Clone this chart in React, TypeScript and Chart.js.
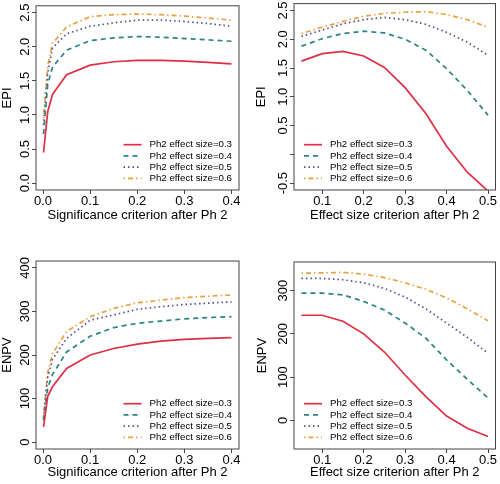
import React, { useEffect, useRef } from 'react';
import { Chart, registerables } from 'chart.js';

Chart.register(...registerables);

const FONT = '"Liberation Sans", Arial, Helvetica, sans-serif';

// ---------- data ----------
const seriesLabels = ['Ph2 effect size=0.3', 'Ph2 effect size=0.4', 'Ph2 effect size=0.5', 'Ph2 effect size=0.6'];

const sigCriterion = [0.001, 0.01, 0.02, 0.05, 0.1, 0.15, 0.2, 0.25, 0.3, 0.35, 0.4];
const esCriterion = [0.05, 0.1, 0.15, 0.2, 0.25, 0.3, 0.35, 0.4, 0.45, 0.5];

const epiSig03 = [0.45, 1.05, 1.3, 1.59, 1.73, 1.78, 1.8, 1.8, 1.79, 1.77, 1.75];
const epiSig04 = [0.72, 1.45, 1.7, 1.95, 2.09, 2.13, 2.15, 2.14, 2.12, 2.1, 2.08];
const epiSig05 = [0.85, 1.62, 1.98, 2.19, 2.3, 2.35, 2.39, 2.39, 2.37, 2.34, 2.3];
const epiSig06 = [0.95, 1.72, 2.05, 2.29, 2.44, 2.47, 2.48, 2.47, 2.45, 2.42, 2.39];

const epiEs03 = [1.62, 1.75, 1.79, 1.71, 1.51, 1.16, 0.71, 0.14, -0.31, -0.64];
const epiEs04 = [1.88, 2.01, 2.1, 2.14, 2.11, 2.0, 1.81, 1.49, 1.11, 0.68];
const epiEs05 = [2.05, 2.16, 2.27, 2.34, 2.38, 2.34, 2.26, 2.12, 1.95, 1.72];
const epiEs06 = [2.1, 2.21, 2.31, 2.4, 2.45, 2.47, 2.48, 2.43, 2.34, 2.21];

const enpvSig03 = [35, 105, 127, 169, 200, 215, 225, 232, 236, 238, 240];
const enpvSig04 = [50, 125, 155, 207, 243, 263, 273, 278, 283, 286, 288];
const enpvSig05 = [55, 150, 190, 238, 280, 292, 305, 311, 316, 319, 322];
const enpvSig06 = [60, 160, 203, 254, 288, 307, 320, 326, 332, 335, 338];

const enpvEs03 = [243, 243, 229, 200, 158, 105, 55, 10, -18, -37];
const enpvEs04 = [294, 294, 290, 275, 255, 225, 190, 140, 95, 52];
const enpvEs05 = [328, 328, 325, 318, 305, 285, 258, 225, 192, 155];
const enpvEs06 = [340, 341, 342, 338, 330, 318, 303, 283, 258, 230];

const sigTicks = [0, 0.1, 0.2, 0.3, 0.4];
const sigTickLabels = ['0.0', '0.1', '0.2', '0.3', '0.4'];
const esTicks = [0.1, 0.2, 0.3, 0.4, 0.5];
const esTickLabels = ['0.1', '0.2', '0.3', '0.4', '0.5'];
const epiSigTicks = [0, 0.5, 1, 1.5, 2, 2.5];
const epiSigTickLabels = ['0.0', '0.5', '1.0', '1.5', '2.0', '2.5'];
const epiEsTicks = [-0.5, 0, 0.5, 1, 1.5, 2, 2.5];
const epiEsTickLabels = ['-0.5', '', '0.5', '1.0', '1.5', '2.0', '2.5'];
const enpvSigTicks = [0, 100, 200, 300, 400];
const enpvSigTickLabels = ['0', '100', '200', '300', '400'];
const enpvEsTicks = [0, 100, 200, 300];
const enpvEsTickLabels = ['0', '100', '200', '300'];

// ---------- styles ----------
const lineStyles = [
  { color: '#DE2F45', dash: [] as number[] },
  { color: '#2A8580', dash: [5, 4] },
  { color: '#574C92', dash: [1.5, 3] },
  { color: '#EBA040', dash: [1.5, 3, 5, 3] },
];

const frameBox = {
  id: 'frameBox',
  afterDraw(chart: any) {
    const { ctx, chartArea } = chart;
    ctx.save();
    ctx.strokeStyle = '#444';
    ctx.lineWidth = 1;
    ctx.strokeRect(chartArea.left, chartArea.top, chartArea.right - chartArea.left, chartArea.bottom - chartArea.top);
    ctx.restore();
  },
};

const insetLegend = {
  id: 'insetLegend',
  afterDraw(chart: any, _args: any, opts: any) {
    const { ctx, chartArea } = chart;
    const datasets = chart.data.datasets;
    ctx.save();
    ctx.font = `${opts.fontSize}px ${FONT}`;
    const maxW = Math.max(...datasets.map((d: any) => ctx.measureText(d.label).width));
    const sampleLen = 18;
    const gap = 8;
    const rowH = 11.2;
    const x0 =
      opts.side === 'right'
        ? chartArea.right - opts.inset - maxW - gap - sampleLen
        : chartArea.left + opts.inset;
    const n = datasets.length;
    datasets.forEach((ds: any, i: number) => {
      const y = chartArea.bottom - opts.bottomInset - (n - 1 - i) * rowH;
      ctx.strokeStyle = ds.borderColor;
      ctx.lineWidth = ds.borderWidth;
      ctx.setLineDash(ds.borderDash || []);
      ctx.beginPath();
      ctx.moveTo(x0, y);
      ctx.lineTo(x0 + sampleLen, y);
      ctx.stroke();
      ctx.setLineDash([]);
      ctx.fillStyle = '#000';
      ctx.textAlign = 'left';
      ctx.textBaseline = 'middle';
      ctx.fillText(ds.label, x0 + sampleLen + gap, y);
    });
    ctx.restore();
  },
};

type Panel = {
  left: number;
  top: number;
  area: { left: number; right: number; top: number; bottom: number };
  xs: number[];
  series: number[][];
  xMin: number;
  xMax: number;
  yMin: number;
  yMax: number;
  xTicks: number[];
  xTickLabels: string[];
  yTicks: number[];
  yTickLabels: string[];
  xTitle: string;
  yTitle: string;
  xTitlePad: number;
  yTitlePad: number;
  yTickPad: number;
  legendSide: 'left' | 'right';
  legendInset: number;
};

const W = 250;
const H = 242;

const panels: Panel[] = [
  {
    left: 0, top: 0,
    area: { left: 36, right: 239, top: 3, bottom: 190 },
    xs: sigCriterion, series: [epiSig03, epiSig04, epiSig05, epiSig06],
    xMin: -0.01496, xMax: 0.41596, yMin: -0.1, yMax: 2.6,
    xTicks: sigTicks, xTickLabels: sigTickLabels, yTicks: epiSigTicks, yTickLabels: epiSigTickLabels,
    xTitle: 'Significance criterion after Ph 2', yTitle: 'EPI',
    xTitlePad: 19, yTitlePad: 0, yTickPad: -2, legendSide: 'right', legendInset: 7,
  },
  {
    left: 250, top: 0,
    area: { left: 44, right: 245.5, top: 3, bottom: 190 },
    xs: esCriterion, series: [epiEs03, epiEs04, epiEs05, epiEs06],
    xMin: 0.032, xMax: 0.518, yMin: -0.62, yMax: 2.62,
    xTicks: esTicks, xTickLabels: esTickLabels, yTicks: epiEsTicks, yTickLabels: epiEsTickLabels,
    xTitle: 'Effect size criterion after Ph 2', yTitle: 'EPI',
    xTitlePad: 18.5, yTitlePad: 4, yTickPad: -4.2, legendSide: 'left', legendInset: 10,
  },
  {
    left: 0, top: 242,
    area: { left: 36, right: 239, top: 19, bottom: 207 },
    xs: sigCriterion, series: [enpvSig03, enpvSig04, enpvSig05, enpvSig06],
    xMin: -0.01496, xMax: 0.41596, yMin: -16, yMax: 416,
    xTicks: sigTicks, xTickLabels: sigTickLabels, yTicks: enpvSigTicks, yTickLabels: enpvSigTickLabels,
    xTitle: 'Significance criterion after Ph 2', yTitle: 'ENPV',
    xTitlePad: 3.5, yTitlePad: 0, yTickPad: -3.8, legendSide: 'right', legendInset: 7,
  },
  {
    left: 250, top: 242,
    area: { left: 44, right: 245.5, top: 20, bottom: 207 },
    xs: esCriterion, series: [enpvEs03, enpvEs04, enpvEs05, enpvEs06],
    xMin: 0.032, xMax: 0.518, yMin: -66, yMax: 366,
    xTicks: esTicks, xTickLabels: esTickLabels, yTicks: enpvEsTicks, yTickLabels: enpvEsTickLabels,
    xTitle: 'Effect size criterion after Ph 2', yTitle: 'ENPV',
    xTitlePad: 4, yTitlePad: 5, yTickPad: -3.8, legendSide: 'left', legendInset: 10,
  },
];

function PanelChart({ p }: { p: Panel }) {
  const ref = useRef<HTMLCanvasElement | null>(null);
  useEffect(() => {
    if (!ref.current) return;
    const gridOpts = {
      display: true,
      drawOnChartArea: false,
      drawTicks: true,
      tickLength: 4,
      color: '#444',
      lineWidth: 1,
    };
    const chart = new Chart(ref.current, {
      type: 'line',
      data: {
        datasets: p.series.map((ys, si) => ({
          label: seriesLabels[si],
          data: p.xs.map((x, i) => ({ x, y: ys[i] })),
          borderColor: lineStyles[si].color,
          backgroundColor: lineStyles[si].color,
          borderDash: lineStyles[si].dash,
          borderWidth: 1.7,
          pointRadius: 0,
          tension: 0,
          fill: false,
        })),
      },
      options: {
        animation: false,
        responsive: false,
        events: [],
        layout: {
          padding: { left: 0, right: W - p.area.right, top: p.area.top, bottom: 0 },
        },
        plugins: {
          legend: { display: false },
          tooltip: { enabled: false },
          insetLegend: { side: p.legendSide, inset: p.legendInset, bottomInset: 11.7, fontSize: 9.7 },
        } as any,
        scales: {
          x: {
            type: 'linear',
            bounds: 'data',
            min: p.xMin,
            max: p.xMax,
            afterBuildTicks: (s: any) => {
              s.ticks = p.xTicks.map((v) => ({ value: v }));
            },
            afterFit: (s: any) => {
              s.height = H - p.area.bottom;
            },
            grid: gridOpts,
            border: { display: false },
            ticks: {
              autoSkip: false,
              maxRotation: 0,
              minRotation: 0,
              padding: 0,
              color: '#000',
              font: { family: FONT, size: 13 },
              callback: (_v: any, i: number) => p.xTickLabels[i],
            },
            title: {
              display: true,
              text: p.xTitle,
              color: '#000',
              font: { family: FONT, size: 13 },
              padding: { top: 0, bottom: p.xTitlePad },
            },
          },
          y: {
            type: 'linear',
            bounds: 'data',
            min: p.yMin,
            max: p.yMax,
            afterBuildTicks: (s: any) => {
              s.ticks = p.yTicks.map((v) => ({ value: v }));
            },
            afterFit: (s: any) => {
              s.width = p.area.left;
            },
            grid: gridOpts,
            border: { display: false },
            ticks: {
              autoSkip: false,
              minRotation: 90,
              maxRotation: 90,
              crossAlign: 'center',
              padding: p.yTickPad,
              color: '#000',
              font: { family: FONT, size: 13 },
              callback: (_v: any, i: number) => p.yTickLabels[i],
            },
            title: {
              display: true,
              text: p.yTitle,
              color: '#000',
              font: { family: FONT, size: 13 },
              padding: { top: p.yTitlePad, bottom: 0 },
            },
          },
        } as any,
      },
      plugins: [frameBox, insetLegend],
    } as any);
    return () => chart.destroy();
  }, [p]);
  return (
    <canvas
      ref={ref}
      width={W}
      height={H}
      style={{ position: 'absolute', left: p.left, top: p.top, width: W, height: H }}
    />
  );
}

export default function App() {
  return (
    <div style={{ position: 'absolute', left: 0, top: 0, width: 500, height: 484, background: '#fff', overflow: 'hidden' }}>
      {panels.map((p, i) => (
        <PanelChart key={i} p={p} />
      ))}
    </div>
  );
}
